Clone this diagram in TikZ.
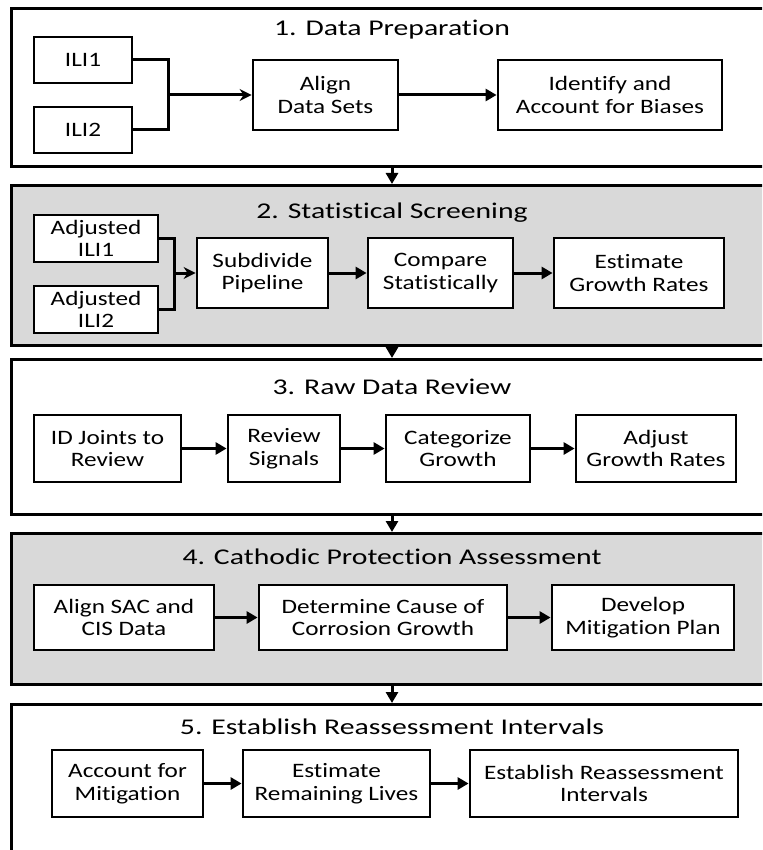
\documentclass[tikz,border=0pt]{standalone}
\usepackage{fontspec}
\setmainfont{Carlito}[FakeStretch=1.23, Ligatures=NoCommon]
\newfontfamily\titlefont{Carlito}[FakeStretch=1.32, Ligatures=NoCommon]
\usetikzlibrary{arrows.meta}
\definecolor{panelgray}{RGB}{217,217,217}
\begin{document}
\begin{tikzpicture}[x=1pt,y=-1pt,
  panel/.style={draw, line width=2.8pt, inner sep=0pt, anchor=north west, minimum width=800pt},
  graypanel/.style={panel, fill=panelgray},
  box/.style={draw, line width=2.8pt, fill=white, inner sep=0pt, align=center,
    font=\fontsize{20.5}{22.5}\selectfont},
  title/.style={inner sep=0pt, font=\titlefont\fontsize{22.5}{26}\selectfont},
  conn/.style={line width=3pt},
  arr/.style={line width=3pt, -{Triangle[length=11pt,width=12pt]}},
  sarr/.style={line width=3pt, -{Stealth[length=12pt,width=12pt]}}
]
\useasboundingbox (0,0) rectangle (762,850);
\clip (0,0) rectangle (762,850);

% panels
\node[panel, minimum height=158pt] (p1) at (10,7) {};
\node[graypanel, minimum height=160pt] (p2) at (10,184) {};
\node[panel, minimum height=155pt] (p3) at (10,358) {};
\node[graypanel, minimum height=151pt] (p4) at (10,532) {};
\node[panel, minimum height=220pt] (p5) at (10,703) {};

% titles
\node[title] (t1) at (392,30) {1. Data Preparation};
\node[title] (t2) at (392,213) {2. Statistical Screening};
\node[title] (t3) at (392,387) {3. Raw Data Review};
\node[title] (t4) at (392,557) {4. Cathodic Protection Assessment};
\node[title] (t5) at (392,727) {5. Establish Reassessment Intervals};

% panel-to-panel arrows
\draw[arr] (p1.south -| t1) -- (p2.north -| t1);
\draw[arr] (p2.south -| t2) -- (p3.north -| t2);
\draw[arr] (p3.south -| t3) -- (p4.north -| t3);
\draw[arr] (p4.south -| t4) -- (p5.north -| t4);

% panel 1
\node[box, minimum width=98pt, minimum height=46pt] (ili1) at (83,60) {ILI1};
\node[box, minimum width=98pt, minimum height=46pt] (ili2) at (83,130) {ILI2};
\node[box, minimum width=145pt, minimum height=70pt] (align) at (325.5,95) {Align\\Data Sets};
\node[box, minimum width=224pt, minimum height=70pt] (ident) at (610,95) {Identify and\\Account for Biases};
\coordinate (j1) at (168,95);
\draw[conn] (ili1.east) -| (j1) |- (ili2.east);
\draw[sarr] (j1) -- (align.west);
\draw[arr] (align) -- (ident);

% panel 2
\node[box, minimum width=124pt, minimum height=47pt] (adj1) at (96,238.5) {Adjusted\\ILI1};
\node[box, minimum width=124pt, minimum height=47pt] (adj2) at (96,309.5) {Adjusted\\ILI2};
\node[box, minimum width=131pt, minimum height=70pt] (subdiv) at (262.5,273) {Subdivide\\Pipeline};
\node[box, minimum width=145pt, minimum height=70pt] (compare) at (440.5,273) {Compare\\Statistically};
\node[box, minimum width=170pt, minimum height=70pt] (estgr) at (639,273) {Estimate\\Growth Rates};
\coordinate (j2) at (174,273);
\draw[conn] (adj1.east) -| (j2) |- (adj2.east);
\draw[sarr] (j2) -- (subdiv.west);
\draw[arr] (subdiv) -- (compare);
\draw[arr] (compare) -- (estgr);

% panel 3
\node[box, minimum width=147pt, minimum height=67pt] (idj) at (107.5,448.5) {ID Joints to\\Review};
\node[box, minimum width=112pt, minimum height=67pt] (revsig) at (284,448.5) {Review\\Signals};
\node[box, minimum width=144pt, minimum height=67pt] (categ) at (458,448.5) {Categorize\\Growth};
\node[box, minimum width=160pt, minimum height=67pt] (adjgr) at (656,448.5) {Adjust\\Growth Rates};
\draw[arr] (idj) -- (revsig);
\draw[arr] (revsig) -- (categ);
\draw[arr] (categ) -- (adjgr);

% panel 4
\node[box, minimum width=180pt, minimum height=65pt] (sac) at (124,617.5) {Align SAC and\\CIS Data};
\node[box, minimum width=248pt, minimum height=65pt] (determ) at (383,617.5) {Determine Cause of\\Corrosion Growth};
\node[box, minimum width=182pt, minimum height=65pt] (devel) at (643,617.5) {Develop\\Mitigation Plan};
\draw[arr] (sac) -- (determ);
\draw[arr] (determ) -- (devel);

% panel 5
\node[box, minimum width=151pt, minimum height=67pt] (acct) at (127.5,783.5) {Account for\\Mitigation};
\node[box, minimum width=187pt, minimum height=67pt] (remain) at (336.5,783.5) {Estimate\\Remaining Lives};
\node[box, minimum width=268pt, minimum height=67pt] (estab) at (604,783.5) {Establish Reassessment\\Intervals};
\draw[arr] (acct) -- (remain);
\draw[arr] (remain) -- (estab);
\end{tikzpicture}
\end{document}
